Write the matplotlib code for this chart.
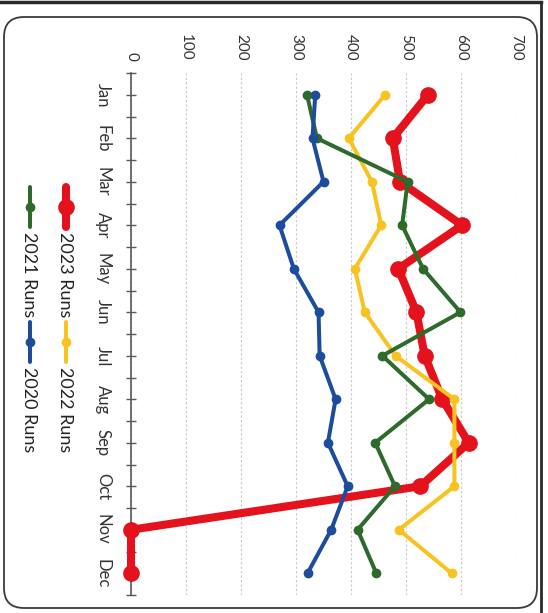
import numpy as np
import matplotlib.pyplot as plt
from matplotlib.lines import Line2D
from matplotlib.patches import FancyBboxPatch

plt.rcParams['font.family'] = ['Lato', 'DejaVu Sans']

months = ["Jan", "Feb", "Mar", "Apr", "May", "Jun",
          "Jul", "Aug", "Sep", "Oct", "Nov", "Dec"]
runs_2023 = [540, 476, 489, 602, 486, 519, 534, 566, 614, 526, 0, 0]
runs_2022 = [462, 396, 438, 455, 407, 425, 481, 588, 588, 588, 487, 583]
runs_2021 = [320, 338, 503, 493, 531, 599, 457, 542, 444, 480, 412, 446]
runs_2020 = [335, 330, 350, 270, 296, 341, 343, 372, 358, 394, 364, 321]
value_ticks = [0, 100, 200, 300, 400, 500, 600, 700]

series = [
    ("2023 Runs", runs_2023, "#e3121c", 5.8, 11),
    ("2022 Runs", runs_2022, "#f8c320", 2.9, 6),
    ("2021 Runs", runs_2021, "#2d6a2b", 2.9, 6),
    ("2020 Runs", runs_2020, "#1d4c9c", 2.9, 6),
]

W, H = 548, 613
fig = plt.figure(figsize=(W / 100, H / 100), dpi=100)


def fx(x):
    return x / W


def fy(y):
    return 1 - y / H


# chart is scanned sideways: months run down, values run left to right
ax = fig.add_axes([fx(131), fy(595), (516 - 131) / W, (595 - 73) / H])
ax.set_axisbelow(True)
pos = np.arange(len(months))
for i, (name, vals, color, lw, ms) in enumerate(series):
    ax.plot(vals, pos, color=color, lw=lw, marker="o", ms=ms,
            solid_capstyle="round", zorder=3 + i, clip_on=False)

ax.set_xlim(0, 700)
ax.set_ylim(11.5, -0.5)
ax.xaxis.tick_top()
ax.set_xticks(value_ticks)
ax.set_xticklabels([str(v) for v in value_ticks], rotation=-90)
ax.tick_params(axis="x", length=0, pad=9, labelsize=11, labelcolor="#333333")
ax.grid(axis="x", color="#c8c8c8", lw=0.8, ls=(0, (2, 2)))

ax.set_yticks(pos)
ax.set_yticklabels(months, rotation=-90)
ax.set_yticks(list(pos - 0.5) + [11.5], minor=True)
ax.tick_params(axis="y", which="both", direction="inout", length=7, width=1,
               color="#595959")
ax.tick_params(axis="y", pad=11, labelsize=12, labelcolor="#333333")
for lab in ax.get_yticklabels():
    lab.set_va("center")

for s in ["top", "right", "bottom"]:
    ax.spines[s].set_visible(False)
ax.spines["left"].set_color("#595959")
ax.spines["left"].set_linewidth(1.2)
ax.spines["left"].set_zorder(1)

# legend, drawn sideways like the rest
legend_spots = [(66, 187), (66, 322), (30, 187), (30, 322)]
for (name, vals, color, lw, ms), (lx, ly) in zip(series, legend_spots):
    fig.add_artist(Line2D([fx(lx), fx(lx)], [fy(ly), fy(ly + 40)],
                          color=color, lw=lw, solid_capstyle="round",
                          transform=fig.transFigure))
    fig.add_artist(Line2D([fx(lx)], [fy(ly + 20)], color=color, marker="o",
                          ms=ms, transform=fig.transFigure))
    fig.text(fx(lx - 1), fy(ly + 45), name, rotation=-90, ha="center",
             va="top", fontsize=13, color="#222222")

# rounded chart frame and scan edges
frame = FancyBboxPatch((4, H - 608), 533, 591,
                       boxstyle="round,pad=0,rounding_size=20",
                       fill=False, ec="#3a3a3a", lw=1.3, transform=None)
fig.add_artist(frame)
fig.add_artist(Line2D([0, fx(541)], [fy(2), fy(2)], color="#2a2a2a", lw=2.5,
                      transform=fig.transFigure))
fig.add_artist(Line2D([fx(541), fx(541)], [fy(2), 0], color="#2a2a2a", lw=2,
                      transform=fig.transFigure))

fig.savefig("out.png", dpi=100)
